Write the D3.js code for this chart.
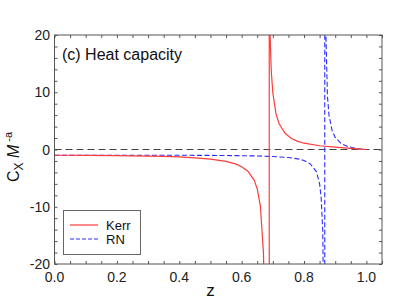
<!DOCTYPE html>
<html><head><meta charset="utf-8">
<script src="https://cdn.jsdelivr.net/npm/d3@7"></script>
<style>
body{margin:0;background:#fff;}
text{font-family:"Liberation Sans",Arial,sans-serif;}
</style></head>
<body><svg id="c" width="402" height="303"></svg>
<script>
// Data
const kerrZ = [0,0.05,0.1,0.2,0.3,0.35,0.4,0.45,0.5,0.55,0.58,0.6,0.62,0.64,0.65,0.66,0.67,0.675,0.6885,0.6885,0.69,0.695,0.7,0.71,0.72,0.74,0.76,0.78,0.8,0.85,0.9,0.95,0.98,1.0];
const kerrC = [-1,-1.003,-1.013,-1.055,-1.14,-1.21,-1.30,-1.45,-1.68,-2.08,-2.52,-3.0,-3.79,-5.34,-6.87,-9.83,-18.1,-32,-1000,1000,21.9,13.7,9.9,6.27,4.5,2.78,1.93,1.43,1.1,0.65,0.4,0.18,0.08,0];
const rnZ = [0,0.1,0.2,0.3,0.4,0.5,0.6,0.65,0.7,0.75,0.78,0.8,0.82,0.84,0.85,0.855,0.86,0.863,0.8665,0.8665,0.87,0.875,0.88,0.89,0.9,0.92,0.94,0.96,0.98,1.0];
const rnC = [-1,-1,-1.0005,-1.003,-1.01,-1.03,-1.08,-1.13,-1.22,-1.41,-1.64,-1.92,-2.5,-3.9,-6.0,-8.5,-14.1,-27.5,-1000,1000,20.5,9.4,6.0,3.3,2.1,1.0,0.52,0.27,0.12,0];
const xTicks = [0,0.2,0.4,0.6,0.8,1.0];
const yTicks = [-20,-10,0,10,20];
const seriesNames = ["Kerr","RN"];

const L=54.5, R=382, T=35, B=264;
const svg = d3.select("#c");
const x = d3.scaleLinear().domain([0,1.05]).range([L,R]);
const y = d3.scaleLinear().domain([-20,20]).range([B,T]);

svg.append("defs").append("clipPath").attr("id","clip")
  .append("rect").attr("x",L).attr("y",T).attr("width",R-L).attr("height",B-T);

// zero line
svg.append("line").attr("x1",x(0)).attr("x2",x(1.05)).attr("y1",y(0)).attr("y2",y(0))
  .attr("stroke","#444").attr("stroke-width",1.2).attr("stroke-dasharray","7,4");

const line = d3.line().x(d=>x(d[0])).y(d=>y(d[1]));
const g = svg.append("g").attr("clip-path","url(#clip)");
g.append("path").datum(rnZ.map((z,i)=>[z,rnC[i]])).attr("d",line)
  .attr("fill","none").attr("stroke","#2b2bff").attr("stroke-width",1.1).attr("stroke-dasharray","5,2.5");
g.append("path").datum(kerrZ.map((z,i)=>[z,kerrC[i]])).attr("d",line)
  .attr("fill","none").attr("stroke","#ff3b3b").attr("stroke-width",1.2);

// axes with inward ticks
const minorX = d3.range(0,1.0501,0.05);
const minorY = d3.range(-20,20.01,2);
const axCol="#555";
function axes(){
  const bx = svg.append("g").attr("transform",`translate(0,${B})`)
    .call(d3.axisBottom(x).tickValues(minorX).tickSize(-3).tickFormat(""));
  const tx = svg.append("g").attr("transform",`translate(0,${T})`)
    .call(d3.axisTop(x).tickValues(minorX).tickSize(-3).tickFormat(""));
  const ly = svg.append("g").attr("transform",`translate(${L},0)`)
    .call(d3.axisLeft(y).tickValues(minorY).tickSize(-3).tickFormat(""));
  const ry = svg.append("g").attr("transform",`translate(${R},0)`)
    .call(d3.axisRight(y).tickValues(minorY).tickSize(-3).tickFormat(""));
  [bx,tx,ly,ry].forEach(a=>{
    a.select(".domain").remove();
    a.selectAll("line").attr("stroke",axCol);
  });
  svg.append("rect").attr("x",L).attr("y",T).attr("width",R-L).attr("height",B-T)
    .attr("fill","none").attr("stroke",axCol).attr("stroke-width",1);
}
axes();

// tick labels
svg.append("g").selectAll("text").data(xTicks).join("text")
  .attr("x",d=>x(d)).attr("y",281.5).attr("text-anchor","middle")
  .attr("font-size",14).attr("fill","#222").text(d=>d3.format(".1f")(d));
svg.append("g").selectAll("text").data(yTicks).join("text")
  .attr("x",50).attr("y",d=>y(d)+5).attr("text-anchor","end")
  .attr("font-size",14).attr("fill","#222").text(d=>d);

// title
svg.append("text").attr("x",62).attr("y",60).attr("font-size",16).attr("fill","#111").text("(c) Heat capacity");

// axis labels
svg.append("text").attr("x",x(0.5)).attr("y",296).attr("text-anchor","middle")
  .attr("font-size",17).attr("fill","#111").text("z");
const yl = svg.append("text").attr("transform","translate(19,157) rotate(-90)")
  .attr("text-anchor","middle").attr("font-size",16).attr("fill","#111");
yl.append("tspan").text("C");
yl.append("tspan").attr("font-size",12).attr("dy",4).text("X");
yl.append("tspan").attr("dy",-4).attr("font-style","italic").text(" M");
yl.append("tspan").attr("font-size",11).attr("dy",-7).text(" -a");

// legend
const lg = svg.append("g");
lg.append("rect").attr("x",63.5).attr("y",210.5).attr("width",77).attr("height",44)
  .attr("fill","#fff").attr("stroke","#666").attr("stroke-width",1);
const styles=[{c:"#ff3b3b",d:null,w:1.2},{c:"#2b2bff",d:"4,2",w:1.1}];
seriesNames.forEach((n,i)=>{
  const yy = 225 + i*14;
  const l = lg.append("line").attr("x1",70).attr("x2",98).attr("y1",yy).attr("y2",yy)
    .attr("stroke",styles[i].c).attr("stroke-width",styles[i].w);
  if(styles[i].d) l.attr("stroke-dasharray",styles[i].d);
  lg.append("text").attr("x",106).attr("y",yy+4.5).attr("font-size",13).attr("fill","#111").text(n);
});
</script></body></html>
